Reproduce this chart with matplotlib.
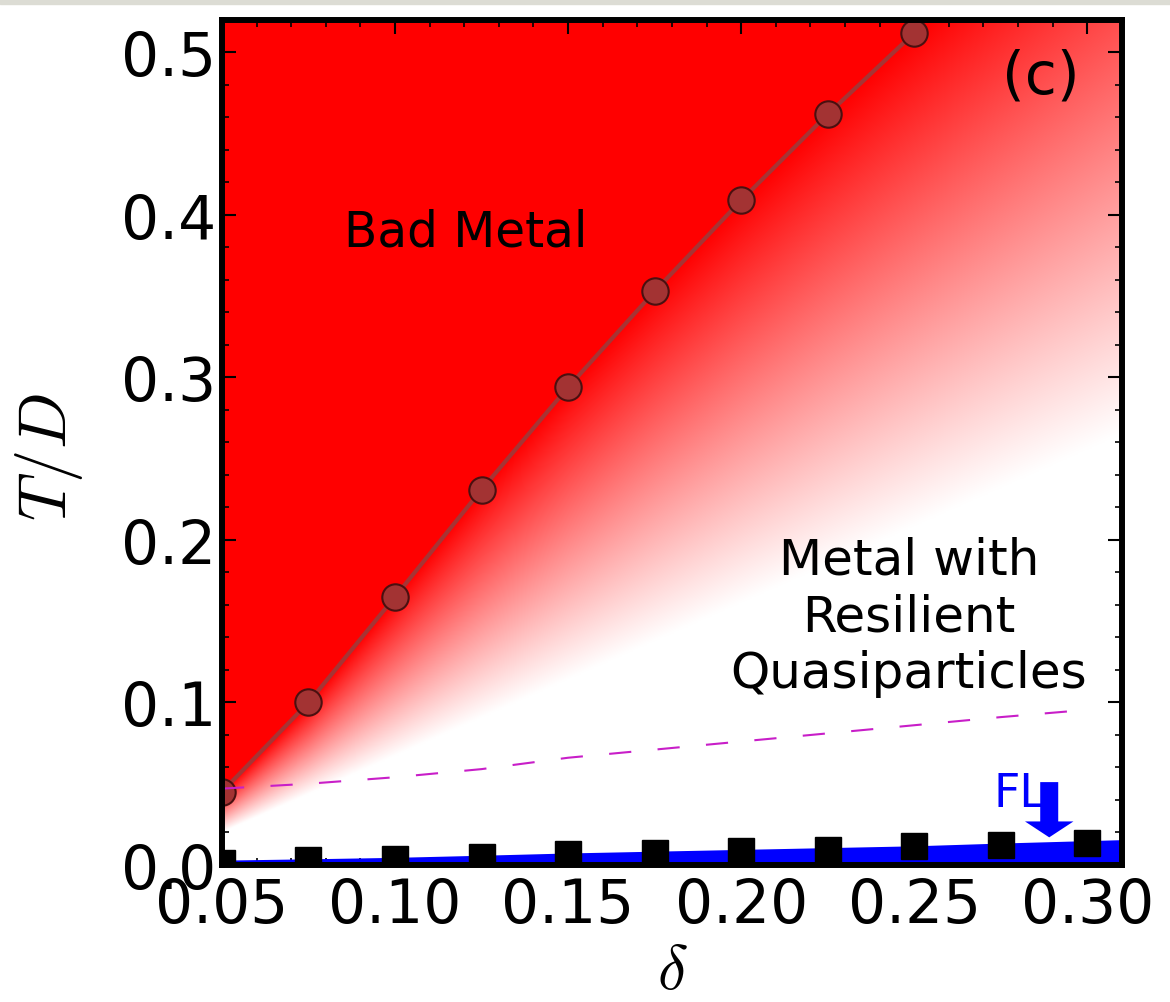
import numpy as np
import matplotlib
matplotlib.use("Agg")
import matplotlib.pyplot as plt
from matplotlib.patches import Rectangle
from matplotlib.ticker import MultipleLocator, FormatStrFormatter

# crossover line (bad metal -> resilient quasiparticles)
delta_cross = [0.05, 0.075, 0.10, 0.125, 0.15, 0.175, 0.20, 0.225, 0.25]
T_cross = [0.045, 0.100, 0.165, 0.231, 0.294, 0.353, 0.409, 0.462, 0.512]

# lower edge of the fading region
delta_fade = [0.05, 0.31]
T_fade = [0.020, 0.265]

# dashed crossover estimate
delta_dash = [0.05, 0.075, 0.10, 0.125, 0.15, 0.175, 0.20, 0.225, 0.25, 0.275, 0.30]
T_dash = [0.047, 0.050, 0.054, 0.059, 0.066, 0.071, 0.076, 0.081, 0.086, 0.091, 0.0955]

# Fermi-liquid scale
delta_fl = [0.05, 0.075, 0.10, 0.125, 0.15, 0.175, 0.20, 0.225, 0.25, 0.275, 0.30]
T_fl = [0.0015, 0.0029, 0.0039, 0.0049, 0.0066, 0.0075, 0.0085, 0.0095, 0.0117, 0.0123, 0.0135]

# upper edge of the blue FL region
delta_fl_band = [0.05, 0.075, 0.10, 0.125, 0.15, 0.175, 0.20, 0.225, 0.25, 0.275, 0.30, 0.31]
T_fl_band = [0.003, 0.0038, 0.0047, 0.006, 0.0074, 0.0085, 0.0096, 0.0107, 0.0118, 0.0135, 0.015, 0.0156]

xmin, xmax = 0.05, 0.31
ymin, ymax = 0.0, 0.52

plt.rcParams['font.family'] = 'DejaVu Sans'
plt.rcParams['mathtext.fontset'] = 'cm'
plt.rcParams['lines.scale_dashes'] = False

fig = plt.figure(figsize=(11.7, 10.03), dpi=100)
fig.patches.append(Rectangle((0, 1 - 5 / 1003), 1, 5 / 1003, transform=fig.transFigure,
                             color='#dcdcd4', zorder=-10))
ax = fig.add_axes([0.1897, 0.1366, 0.7692, 0.8425])

# red -> white fade below the crossover line
nx, ny = 700, 700
xs = np.linspace(xmin, xmax, nx)
ys = np.linspace(ymin, ymax, ny)
X, Y = np.meshgrid(xs, ys)
slope = (T_cross[-1] - T_cross[-2]) / (delta_cross[-1] - delta_cross[-2])
t_hi = np.where(xs <= delta_cross[-1], np.interp(xs, delta_cross, T_cross),
                T_cross[-1] + slope * (xs - delta_cross[-1]))
t_lo = np.interp(xs, delta_fade, T_fade)
frac = np.clip((Y - t_lo[None, :]) / (t_hi - t_lo)[None, :], 0, 1)
img = np.ones((ny, nx, 3))
img[..., 1] = 1 - frac
img[..., 2] = 1 - frac
ax.imshow(img, origin='lower', extent=(xmin, xmax, ymin, ymax), aspect='auto',
          interpolation='bilinear', zorder=0)

# bad metal region
ax.fill_between(delta_cross, T_cross, ymax, color='#ff0000', lw=0, zorder=1)
ax.plot(delta_cross, T_cross, '-', color='#9c3a3a', lw=3, alpha=0.9, zorder=3)
ax.plot(delta_cross, T_cross, 'o', ms=19, mfc='#a33333', mec='#4a1010', mew=1.5, zorder=4)

ax.plot(delta_dash, T_dash, '--', color='#c81ec8', lw=1.5, dashes=(16, 19), zorder=5)

# Fermi liquid
ax.fill_between(delta_fl_band, 0, T_fl_band, color='#0000ff', lw=0, zorder=2)
ax.plot(delta_fl, T_fl, 's', ms=19, color='black', zorder=6)
ax.arrow(0.289, 0.051, 0, -0.034, width=0.0052, head_width=0.014, head_length=0.0098,
         length_includes_head=True, color='#0000ff', lw=0, zorder=7)

ax.text(0.0852, 0.381, 'Bad Metal', fontsize=35, ha='left', va='baseline', zorder=8)
ax.text(0.2485, 0.153, 'Metal with\nResilient\nQuasiparticles', fontsize=36,
        ha='center', va='center', linespacing=1.22, zorder=8)
ax.text(0.2728, 0.0365, 'FL', fontsize=33, color='#0000ff', ha='left', va='baseline', zorder=8)
ax.text(0.2866, 0.4855, '(c)', fontsize=42, ha='center', va='center', zorder=8)

ax.set_xlim(xmin, xmax)
ax.set_ylim(ymin, ymax)
ax.xaxis.set_major_locator(MultipleLocator(0.05))
ax.xaxis.set_minor_locator(MultipleLocator(0.01))
ax.yaxis.set_major_locator(MultipleLocator(0.1))
ax.yaxis.set_minor_locator(MultipleLocator(0.02))
ax.xaxis.set_major_formatter(FormatStrFormatter('%.2f'))
ax.yaxis.set_major_formatter(FormatStrFormatter('%.1f'))
ax.tick_params(which='both', direction='in', top=True, right=True, labelsize=43)
ax.tick_params(which='major', length=10, width=1.5)
ax.tick_params(axis='x', which='major', pad=8)
ax.tick_params(axis='y', which='major', pad=4)
ax.tick_params(which='minor', length=5, width=1.2)
for s in ax.spines.values():
    s.set_linewidth(4.3)
    s.set_zorder(10)

ax.set_xlabel(r'$\delta$', fontsize=46)
ax.set_ylabel(r'$T/D$', fontsize=48)
ax.xaxis.set_label_coords(0.5, -0.087)
ax.yaxis.set_label_coords(-0.152, 0.484)

fig.savefig('out.png', dpi=100)
